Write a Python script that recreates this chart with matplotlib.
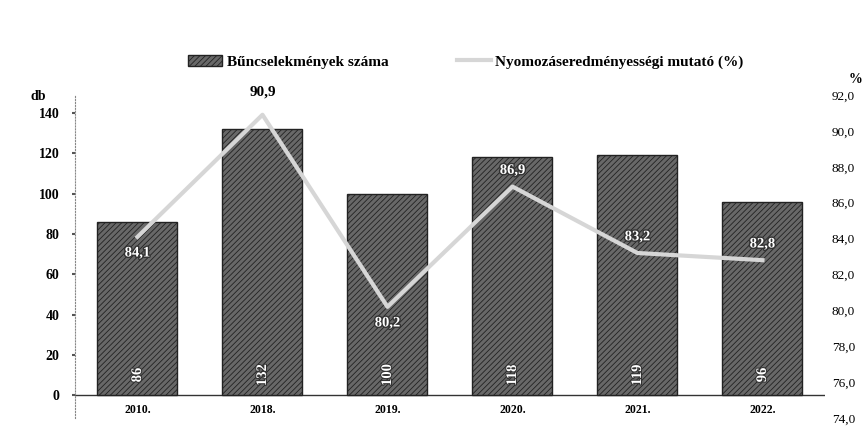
import matplotlib.pyplot as plt
import matplotlib.patheffects as pe

# adatok
evek = ["2010.", "2018.", "2019.", "2020.", "2021.", "2022."]
bunc_szam = [86, 132, 100, 118, 119, 96]
mutato = [84.1, 90.9, 80.2, 86.9, 83.2, 82.8]
bal_tickek = [0, 20, 40, 60, 80, 100, 120, 140]
jobb_tickek = [74, 76, 78, 80, 82, 84, 86, 88, 90, 92]

# címkék helye: felette (1) vagy alatta (-1) a pontnak
cimke_irany = [-1, 1, -1, 1, 1, 1]

plt.rcParams['font.family'] = ['Liberation Serif', 'DejaVu Serif']
plt.rcParams['hatch.linewidth'] = 0.6

fig = plt.figure(figsize=(8.66, 4.28), dpi=100)
ax = fig.add_axes([0.0866, 0.023, 0.866, 0.755])

x = list(range(len(evek)))
oszlopok = ax.bar(x, bunc_szam, width=0.64, color='#686868', edgecolor='#222222',
                  hatch='//////', linewidth=1.0, zorder=2,
                  label='Bűncselekmények száma')
ax.axhline(0, color='#333333', lw=1.0, zorder=1)

ax.set_xlim(-0.5, len(evek) - 0.5)
ax.set_ylim(-11.4, 148.9)
ax.set_yticks(bal_tickek)
ax.set_yticklabels([str(t) for t in bal_tickek], fontweight='bold', fontsize=10)
ax.tick_params(axis='y', length=2, width=1.5, color='#555555', pad=9)
ax.set_xticks(x)
ax.set_xticklabels(evek, fontweight='bold', fontsize=8.5)
ax.tick_params(axis='x', length=0, pad=-10)
for s in ['top', 'right', 'bottom']:
    ax.spines[s].set_visible(False)
ax.spines['left'].set_linestyle(':')
ax.spines['left'].set_color('#888888')
ax.spines['left'].set_linewidth(0.8)

# oszlop értékek (forgatva, fehér)
for xi, v in zip(x, bunc_szam):
    ax.text(xi, 10, str(v), rotation=90, ha='center', va='center', color='white',
            fontsize=10.5, fontweight='bold',
            path_effects=[pe.withStroke(linewidth=1.5, foreground='#333333')], zorder=5)

ax2 = ax.twinx()
ax2.set_ylim(74, 92)
vonal, = ax2.plot(x, mutato, color='#d6d6d6', lw=3, zorder=4,
                  label='Nyomozáseredményességi mutató (%)')
ax2.set_yticks(jobb_tickek)
ax2.set_yticklabels([f"{t:.1f}".replace('.', ',') for t in jobb_tickek], fontsize=9.5)
ax2.tick_params(axis='y', length=0, pad=5)
for s in ax2.spines.values():
    s.set_visible(False)
ax.set_zorder(1)
ax2.set_zorder(2)
ax2.patch.set_visible(False)

for xi, v, irany in zip(x, mutato, cimke_irany):
    szoveg = f"{v:.1f}".replace('.', ',')
    if xi == 1:
        ax2.text(xi, v + 0.9, szoveg, ha='center', va='bottom', color='black',
                 fontsize=11, fontweight='bold')
    else:
        ax2.text(xi, v + irany * 0.9, szoveg, ha='center', va='center', color='white',
                 fontsize=10.5, fontweight='bold',
                 path_effects=[pe.withStroke(linewidth=2, foreground='#333333')])

fig.text(0.035, 0.775, "db", fontsize=10, fontweight='bold', ha='left', va='center')
fig.text(0.996, 0.815, "%", fontsize=10, fontweight='bold', ha='right', va='center')

fig.legend(handles=[oszlopok, vonal], loc='center', bbox_to_anchor=(0.538, 0.855),
           ncol=2, frameon=False, prop={'weight': 'bold', 'size': 11},
           handlelength=2.2, handleheight=0.7, columnspacing=4.5, handletextpad=0.3)

plt.savefig("out.png", dpi=100)
plt.close()
